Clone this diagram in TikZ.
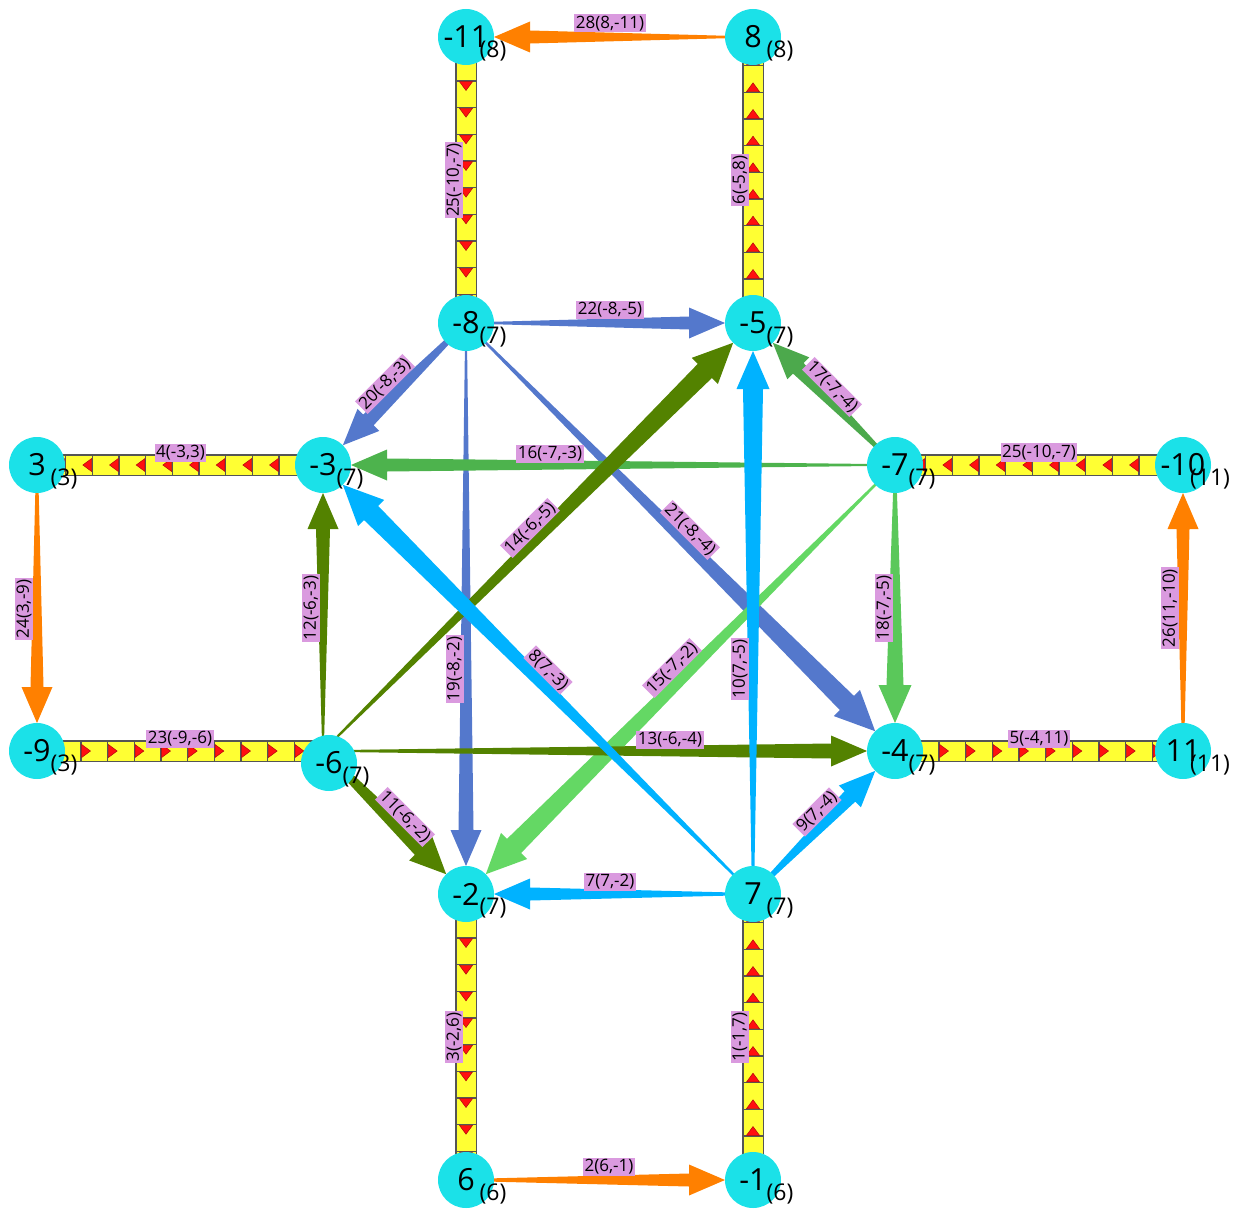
\documentclass[tikz,border=0pt]{standalone}
\usepackage{fontspec}
\setmainfont{Open Sans}
\usetikzlibrary{calc,decorations.markings}
\definecolor{vcyan}{HTML}{1BE1E8}
\definecolor{lblpink}{HTML}{DA9ADF}
\definecolor{eorange}{HTML}{FF8000}
\definecolor{eblue}{HTML}{5478CC}
\definecolor{eolive}{HTML}{538200}
\definecolor{esky}{HTML}{00B2FF}
\definecolor{egreenA}{HTML}{4DB34D}
\definecolor{egreenB}{HTML}{4CA94C}
\definecolor{egreenC}{HTML}{5AC85A}
\definecolor{egreenD}{HTML}{64D864}
\definecolor{ladgray}{HTML}{555555}
\definecolor{ladyellow}{HTML}{FFFF33}
\definecolor{ladred}{HTML}{FF1010}
\tikzset{
  vtx/.style={circle, fill=vcyan, minimum size=56pt, inner sep=0pt, font=\fontsize{30.5}{30.5}\selectfont},
  sublbl/.style={inner sep=0pt, font=\fontsize{23}{23}\selectfont},
  elbl/.style={fill=lblpink, inner sep=1.5pt, font=\fontsize{17}{17}\selectfont},
  laddermarks/.style={postaction={decorate}, decoration={markings,
    mark=between positions 44pt and 262pt step 26.667pt with {
      \draw[ladgray, line width=1.4pt] (0pt,-10pt)--(0pt,10pt);
      \fill[ladred, draw=ladred!70!black, line width=0.5pt] (0.7pt,-6.5pt)--(9.5pt,0pt)--(0.7pt,6.5pt)--cycle;}}}
}
% tapered arrow: src, tgt, start width, shaft width, head width, head length, colour
\newcommand\taper[7]{%
  \path ($(#2)!28pt+#6pt!(#1)$) coordinate (tb) ($(#2)!28pt!(#1)$) coordinate (tt);
  \fill[#7] ($(#1)!#3*0.5pt!90:(#2)$) -- ($(tb)!#4*0.5pt!90:(#2)$) -- ($(tb)!#5*0.5pt!90:(#2)$) -- (tt)
    -- ($(tb)!#5*0.5pt!-90:(#2)$) -- ($(tb)!#4*0.5pt!-90:(#2)$) -- ($(#1)!#3*0.5pt!-90:(#2)$) -- cycle;
}
\newcommand\ladderpath[2]{%
  \draw[ladgray, line width=22pt] (#1) -- (#2);
  \draw[ladyellow, line width=19pt, laddermarks] (#1) -- (#2);
}
\begin{document}
\begin{tikzpicture}[x=1pt,y=-1pt]
\useasboundingbox (0,0) rectangle (1242,1209);
% anchor points of the vertices
\coordinate (vm11) at (466,37);
\coordinate (v8) at (753,37);
\coordinate (vm8) at (466,323);
\coordinate (vm5) at (753,323);
\coordinate (v3) at (37,465);
\coordinate (vm3) at (323,465);
\coordinate (vm7) at (895,465);
\coordinate (vm10) at (1183,465);
\coordinate (vm9) at (37,751);
\coordinate (vm6) at (323,751);
\coordinate (vm4) at (895,751);
\coordinate (v11) at (1183,751);
\coordinate (vm2) at (466,894);
\coordinate (v7) at (753,894);
\coordinate (v6) at (466,1180);
\coordinate (vm1) at (753,1180);

% ladders
\ladderpath{vm11}{vm8}
\ladderpath{vm5}{v8}
\ladderpath{vm3}{v3}
\ladderpath{vm10}{vm7}
\ladderpath{vm9}{vm6}
\ladderpath{vm4}{v11}
\ladderpath{vm2}{v6}
\ladderpath{vm1}{v7}

% tapered arrows
\taper{v8}{vm11}{1}{13}{31}{36}{eorange}
\taper{v3}{vm9}{2}{13}{31}{36}{eorange}
\taper{v11}{vm10}{2}{13}{31}{36}{eorange}
\taper{v6}{vm1}{2}{13}{31}{36}{eorange}
\taper{vm8}{vm5}{1}{13}{31}{36}{eblue}
\taper{vm8}{vm3}{4}{15}{31}{36}{eblue}
\taper{vm8}{vm2}{1.5}{15}{31}{36}{eblue}
\taper{vm8}{vm4}{1.5}{20}{37}{40}{eblue}
\taper{vm7}{vm3}{1.5}{13}{31}{36}{egreenA}
\taper{vm7}{vm5}{2}{15}{31}{36}{egreenB}
\taper{vm7}{vm4}{2}{17}{33}{38}{egreenC}
\taper{vm7}{vm2}{1.5}{20}{37}{40}{egreenD}
\taper{vm6}{vm5}{1.5}{20}{37}{40}{eolive}
\taper{vm6}{vm3}{1.5}{14}{31}{36}{eolive}
\taper{vm6}{vm4}{1.5}{15}{31}{36}{eolive}
\taper{vm6}{vm2}{6}{17}{33}{36}{eolive}
\taper{v7}{vm2}{2}{13}{31}{36}{esky}
\taper{v7}{vm4}{3}{15}{31}{36}{esky}
\taper{v7}{vm5}{2}{20}{33}{38}{esky}
\taper{v7}{vm3}{1.5}{20}{37}{40}{esky}

% vertex circles
\node[vtx] (cm11) at (vm11) {-11};
\node[vtx] (c8) at (v8) {8};
\node[vtx] (cm8) at (vm8) {-8};
\node[vtx] (cm5) at (vm5) {-5};
\node[vtx] (c3) at (v3) {3};
\node[vtx] (cm3) at (vm3) {-3};
\node[vtx] (cm7) at (vm7) {-7};
\node[vtx] (cm10) at (vm10) {-10};
\node[vtx] (cm9) at (vm9) {-9};
\node[vtx] (cm6) at ($(vm6)+(6,12)$) {-6};
\node[vtx] (cm4) at (vm4) {-4};
\node[vtx] (c11) at (v11) {11};
\node[vtx] (cm2) at (vm2) {-2};
\node[vtx] (c7) at (v7) {7};
\node[vtx] (c6) at (v6) {6};
\node[vtx] (cm1) at (vm1) {-1};

% edge labels
\node[elbl] (l28) at (610,23.5) {28(8,-11)};
\node[elbl] (l22) at (610,310) {22(-8,-5)};
\node[elbl] (l16) at (550,454) {16(-7,-3)};
\node[elbl] (l13) at (670,740) {13(-6,-4)};
\node[elbl] (l7) at (610,882) {7(7,-2)};
\node[elbl] (l2) at (609,1167) {2(6,-1)};
\node[elbl] (l4) at (180.5,452.5) {4(-3,3)};
\node[elbl] (l25h) at (1039,452.5) {25(-10,-7)};
\node[elbl] (l23) at (180,739) {23(-9,-6)};
\node[elbl] (l5) at (1039,739) {5(-4,11)};
\node[elbl, rotate=90] (l25v) at (454,180) {25(-10,-7)};
\node[elbl, rotate=90] (l6) at (740,180) {6(-5,8)};
\node[elbl, rotate=90] (l24) at (24,609) {24(3,-9)};
\node[elbl, rotate=90] (l12) at (311,608) {12(-6,-3)};
\node[elbl, rotate=90] (l19) at (454.5,669) {19(-8,-2)};
\node[elbl, rotate=90] (l10) at (740,669) {10(7,-5)};
\node[elbl, rotate=90] (l18) at (884,608) {18(-7,-5)};
\node[elbl, rotate=90] (l26) at (1170,608) {26(11,-10)};
\node[elbl, rotate=90] (l3) at (454,1037) {3(-2,6)};
\node[elbl, rotate=90] (l1) at (740,1037) {1(-1,7)};
\node[elbl, rotate=45] (l20) at (385,384) {20(-8,-3)};
\node[elbl, rotate=-45] (l17) at (832,387) {17(-7,-4)};
\node[elbl, rotate=-45] (l11) at (405,817) {11(-6,-2)};
\node[elbl, rotate=45] (l9) at (817,812) {9(7,-4)};
\node[elbl, rotate=45] (l14) at (530,528) {14(-6,-5)};
\node[elbl, rotate=-45] (l21) at (690,530) {21(-8,-4)};
\node[elbl, rotate=-45] (l8) at (548,670) {8(7,-3)};
\node[elbl, rotate=45] (l15) at (672,668) {15(-7,-2)};

% vertex sub labels
\node[sublbl] (sm11) at ($(cm11.center)+(27,14)$) {(8)};
\node[sublbl] (s8) at ($(c8.center)+(27,14)$) {(8)};
\node[sublbl] (sm8) at ($(cm8.center)+(27,14)$) {(7)};
\node[sublbl] (sm5) at ($(cm5.center)+(27,14)$) {(7)};
\node[sublbl] (s3) at ($(c3.center)+(27,14)$) {(3)};
\node[sublbl] (sm3) at ($(cm3.center)+(27,14)$) {(7)};
\node[sublbl] (sm7) at ($(cm7.center)+(27,14)$) {(7)};
\node[sublbl] (sm10) at ($(cm10.center)+(27,14)$) {(11)};
\node[sublbl] (sm9) at ($(cm9.center)+(27,14)$) {(3)};
\node[sublbl] (sm6) at ($(cm6.center)+(27,14)$) {(7)};
\node[sublbl] (sm4) at ($(cm4.center)+(27,14)$) {(7)};
\node[sublbl] (s11) at ($(c11.center)+(27,14)$) {(11)};
\node[sublbl] (sm2) at ($(cm2.center)+(27,14)$) {(7)};
\node[sublbl] (s7) at ($(c7.center)+(27,14)$) {(7)};
\node[sublbl] (s6) at ($(c6.center)+(27,14)$) {(6)};
\node[sublbl] (sm1) at ($(cm1.center)+(27,14)$) {(6)};
\end{tikzpicture}
\end{document}
